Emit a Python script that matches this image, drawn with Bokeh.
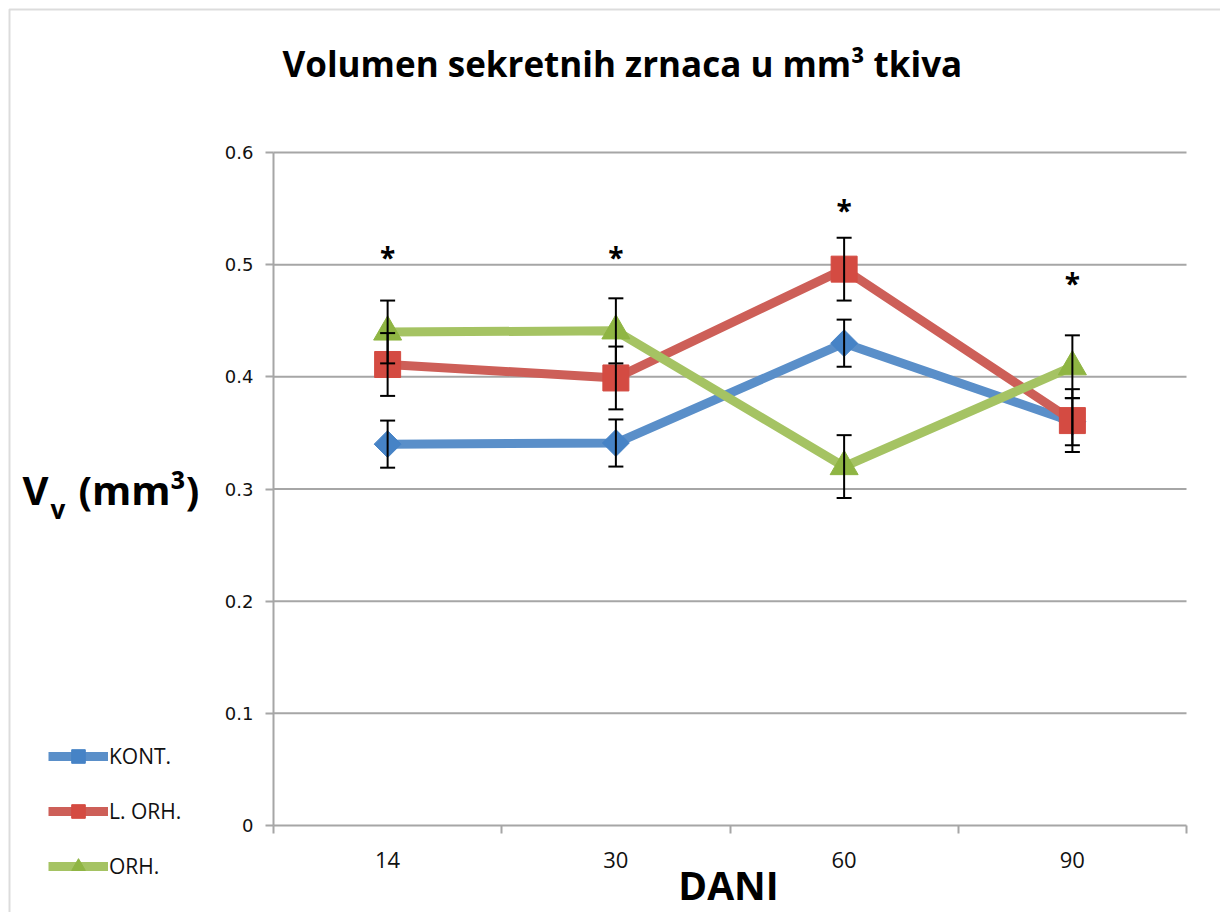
import math
from bokeh.plotting import figure
from bokeh.models import (ColumnDataSource, Whisker, TeeHead, FixedTicker, Legend, LegendItem,
                          Label, BoxAnnotation, Range1d)
from bokeh.core.properties import value
from bokeh.embed import file_html
from bokeh.resources import INLINE

# ---- data ----
days = ["14", "30", "60", "90"]
kont = [0.340, 0.341, 0.430, 0.360]
kont_err = [0.021, 0.021, 0.021, 0.021]
lorh = [0.411, 0.399, 0.496, 0.361]
lorh_err = [0.028, 0.028, 0.028, 0.028]
orh = [0.440, 0.441, 0.320, 0.409]
orh_err = [0.028, 0.029, 0.028, 0.028]
sig_marks = ["*", "*", "*", "*"]
sig_y = [0.507, 0.507, 0.549, 0.484]
y_ticks = [0, 0.1, 0.2, 0.3, 0.4, 0.5, 0.6]
y_tick_labels = ["0", "0.1", "0.2", "0.3", "0.4", "0.5", "0.6"]
y_max = 0.6

series_names = ["KONT.", "L. ORH.", "ORH."]
line_colors = ["#5A8FC9", "#CD5F58", "#A5C363"]
marker_colors = ["#4683C6", "#D44B42", "#8FB543"]
marker_types = ["square", "square", "triangle"]
marker_sizes = [19, 26, 28]
marker_angles = [math.pi / 4, 0, 0]

n = len(days)
x_pos = [i + 0.5 for i in range(n)]
x_bounds = [i for i in range(n + 1)]

# ---- layout (pixels of the canvas) ----
W, H = 1220, 912
FL, FR, FT, FB = 273, 1186, 152, 825   # plot area edges
ppx = (FR - FL) / n
ppy = (FB - FT) / y_max
x_range = Range1d(-FL / ppx, n + (W - FR) / ppx)
y_range = Range1d(-(H - FB) / ppy, y_max + FT / ppy)

p = figure(width=W, height=H, output_backend="svg", toolbar_location=None,
           x_range=x_range, y_range=y_range,
           min_border_left=0, min_border_right=0, min_border_top=0, min_border_bottom=0)
p.outline_line_color = None
p.background_fill_color = "white"
p.border_fill_color = "white"
p.xgrid.visible = False
p.ygrid.visible = False

GRAY = "#A6A6A6"

# x axis at y = 0
xa = p.xaxis[0]
xa.fixed_location = 0
xa.bounds = (0, n)
xa.ticker = FixedTicker(ticks=x_pos, minor_ticks=x_bounds)
xa.major_label_overrides = {x: d for x, d in zip(x_pos, days)}
xa.major_tick_line_color = None
xa.major_tick_out = 0
xa.major_tick_in = 0
xa.minor_tick_line_color = GRAY
xa.minor_tick_line_width = 2
xa.minor_tick_out = 8
xa.minor_tick_in = 0
xa.axis_line_color = GRAY
xa.axis_line_width = 2
xa.major_label_text_font = "Open Sans"
xa.major_label_text_font_size = "22px"
xa.major_label_text_color = "#111111"
xa.major_label_standoff = 18

# y axis at x = 0
ya = p.yaxis[0]
ya.fixed_location = 0
ya.bounds = (0, y_max)
ya.ticker = FixedTicker(ticks=y_ticks)
ya.major_label_overrides = {t: l for t, l in zip(y_ticks, y_tick_labels)}
ya.major_tick_line_color = GRAY
ya.major_tick_line_width = 2
ya.major_tick_out = 8
ya.major_tick_in = 0
ya.minor_tick_line_color = None
ya.axis_line_color = GRAY
ya.axis_line_width = 2
ya.major_label_text_font = "DejaVu Sans"
ya.major_label_text_font_size = "18px"
ya.major_label_text_color = "#111111"
ya.major_label_standoff = 12

# horizontal grid lines from the y ticks
grid_y = [t for t in y_ticks if t > 0]
p.segment(x0=[0] * len(grid_y), x1=[n] * len(grid_y), y0=grid_y, y1=grid_y,
          line_color=GRAY, line_width=2, level="underlay")

# error bars
for vals, errs in [(kont, kont_err), (lorh, lorh_err), (orh, orh_err)]:
    src = ColumnDataSource(dict(x=x_pos,
                                upper=[v + e for v, e in zip(vals, errs)],
                                lower=[v - e for v, e in zip(vals, errs)]))
    w = Whisker(base="x", upper="upper", lower="lower", source=src, level="glyph",
                line_color="black", line_width=2,
                upper_head=TeeHead(size=15, line_color="black", line_width=2),
                lower_head=TeeHead(size=15, line_color="black", line_width=2))
    p.add_layout(w)

# lines and markers
items = []
for name, vals, lc, mc, mt, ms, ma in zip(series_names, [kont, lorh, orh], line_colors,
                                          marker_colors, marker_types, marker_sizes, marker_angles):
    src = ColumnDataSource(dict(x=x_pos, y=vals))
    lr = p.line("x", "y", source=src, line_color=lc, line_width=9, line_join="round")
    items.append((name, lr, src, mt, mc, ms, ma))
renderers = {}
for name, lr, src, mt, mc, ms, ma in items:
    sr = p.scatter("x", "y", source=src, marker=mt, size=ms, angle=ma,
                   fill_color=mc, line_color=mc, line_width=1)
    renderers[name] = [lr, sr]

# significance asterisks
p.text(x=x_pos, y=sig_y, text=sig_marks, text_font=value("Open Sans"),
       text_font_style="bold", text_font_size="28px", text_align="center",
       text_baseline="middle", text_color="black")

legend = Legend(items=[LegendItem(label=nm, renderers=renderers[nm]) for nm in series_names],
                location=(48, H - 883), orientation="vertical",
                glyph_width=60, glyph_height=34, label_height=34, spacing=21,
                label_standoff=1, padding=0, margin=0,
                border_line_color=None, background_fill_alpha=0,
                label_text_font="Open Sans", label_text_font_size="21px",
                label_text_color="#111111")
p.add_layout(legend)

# texts (screen units: from the left / bottom of the canvas)
def lab(x, y_page, text, size, align="left"):
    p.add_layout(Label(x=x, y=H - y_page, x_units="screen", y_units="screen", text=text,
                       text_font="Open Sans", text_font_style="bold", text_font_size=size,
                       text_align=align, text_baseline="alphabetic", text_color="black"))

lab(282, 63, "Volumen sekretnih zrnaca u mm³ tkiva", "35px")
lab(22, 489, "V", "40px")
lab(50, 508, "v", "26px")
lab(78, 489, "(mm³)", "40px")
lab(728, 884, "DANI", "39px", align="center")

# outer chart border
p.add_layout(BoxAnnotation(left=9, right=W + 20, top=9, bottom=H + 20,
                           left_units="canvas", right_units="canvas",
                           top_units="canvas", bottom_units="canvas",
                           fill_alpha=0, line_color="#8C8C8C", line_width=2))

open("out.html", "w").write(file_html(p, INLINE))
